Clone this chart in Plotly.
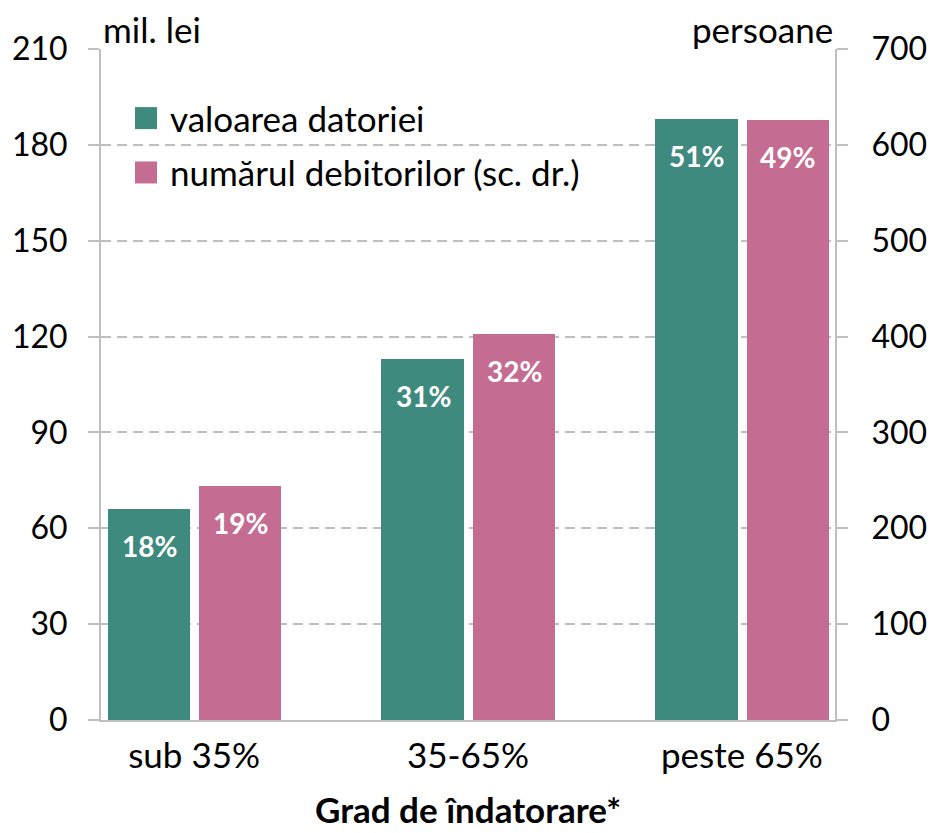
import plotly.graph_objects as go

# Debt burden categories and the two series
categories = ["sub 35%", "35-65%", "peste 65%"]
debt_value = [66, 113, 188]          # mil. lei (left axis)
debtor_count = [244, 403, 626]       # persoane (right axis)
series_names = ["valoarea datoriei", "numărul debitorilor (sc. dr.)"]
left_ticks = [0, 30, 60, 90, 120, 150, 180, 210]
right_ticks = [0, 100, 200, 300, 400, 500, 600, 700]

GREEN = "#3F8A7E"
PINK = "#C56C93"
GRID = "#BFBFBF"
FONT = "Lato"
TXT = 35
TICK = 32


def shares(vals):
    tot = sum(vals)
    return [f"{round(100 * v / tot)}%" for v in vals]


fig = go.Figure()
fig.add_trace(go.Bar(x=categories, y=debt_value, name=series_names[0],
                     marker=dict(color=GREEN, line=dict(width=0)),
                     width=0.3, offset=-0.316, yaxis="y", showlegend=False))
fig.add_trace(go.Bar(x=categories, y=debtor_count, name=series_names[1],
                     marker=dict(color=PINK, line=dict(width=0)),
                     width=0.3, offset=0.018, yaxis="y2", showlegend=False))

annotations = []
# share labels inside the bars
for cat, v, s in zip(categories, debt_value, shares(debt_value)):
    annotations.append(dict(x=cat, y=v, xref="x", yref="y", text=f"<b>{s}</b>",
                            showarrow=False, xshift=-45, yshift=-37,
                            yanchor="middle", font=dict(family=FONT, size=28, color="white")))
for cat, v, s in zip(categories, debtor_count, shares(debtor_count)):
    annotations.append(dict(x=cat, y=v, xref="x", yref="y2", text=f"<b>{s}</b>",
                            showarrow=False, xshift=46, yshift=-37,
                            yanchor="middle", font=dict(family=FONT, size=28, color="white")))

# axis unit captions
annotations.append(dict(x=0, y=1.03, xref="paper", yref="paper", text="mil. lei",
                        showarrow=False, xanchor="left", yanchor="middle",
                        font=dict(family=FONT, size=TXT, color="black")))
annotations.append(dict(x=1, y=1.03, xref="paper", yref="paper", text="persoane",
                        showarrow=False, xanchor="right", yanchor="middle",
                        font=dict(family=FONT, size=TXT, color="black")))

# legend drawn as swatches + text
shapes = []
legend_rows = [(0.897, GREEN), (0.816, PINK)]
for (ly, col), name in zip(legend_rows, series_names):
    shapes.append(dict(type="rect", xref="paper", yref="paper",
                       x0=0.0463, x1=0.0763, y0=ly - 0.0164, y1=ly + 0.0164,
                       fillcolor=col, line=dict(width=0)))
    annotations.append(dict(x=0.0913, y=ly, xref="paper", yref="paper", text=name,
                            showarrow=False, xanchor="left", yanchor="middle",
                            font=dict(family=FONT, size=TXT, color="black")))

# x-axis title
annotations.append(dict(x=0.5, y=(720 - 832) / 671, xref="paper", yref="paper",
                        text="<b>Grad de îndatorare*</b>",
                        showarrow=False, xanchor="center", yanchor="bottom",
                        font=dict(family=FONT, size=35, color="black")))

fig.update_layout(
    width=930, height=833,
    margin=dict(l=101, r=95, t=49, b=113),
    paper_bgcolor="white", plot_bgcolor="white",
    font=dict(family=FONT, size=TXT, color="black"),
    bargap=0, barmode="overlay",
    annotations=annotations, shapes=shapes,
    xaxis=dict(type="category", range=[-0.34, 2.34], automargin=False,
               showline=True, linecolor=GRID, linewidth=2,
               ticks="", showgrid=False, ticklabelstandoff=4,
               tickfont=dict(family=FONT, size=TXT, color="black")),
    yaxis=dict(range=[0, 210], tickvals=left_ticks, automargin=False,
               showline=True, linecolor=GRID, linewidth=2,
               ticks="outside", ticklen=11, tickwidth=2, tickcolor=GRID,
               showgrid=True, gridcolor=GRID, gridwidth=2, griddash="10px,6px",
               zeroline=False, ticklabelstandoff=14,
               tickfont=dict(family=FONT, size=TICK, color="black")),
    yaxis2=dict(range=[0, 700], tickvals=right_ticks, overlaying="y", side="right",
                automargin=False,
                showline=True, linecolor=GRID, linewidth=2,
                ticks="outside", ticklen=11, tickwidth=2, tickcolor=GRID,
                showgrid=False, zeroline=False, ticklabelstandoff=17,
                tickfont=dict(family=FONT, size=TICK, color="black")),
)

fig.write_html("out.html")
